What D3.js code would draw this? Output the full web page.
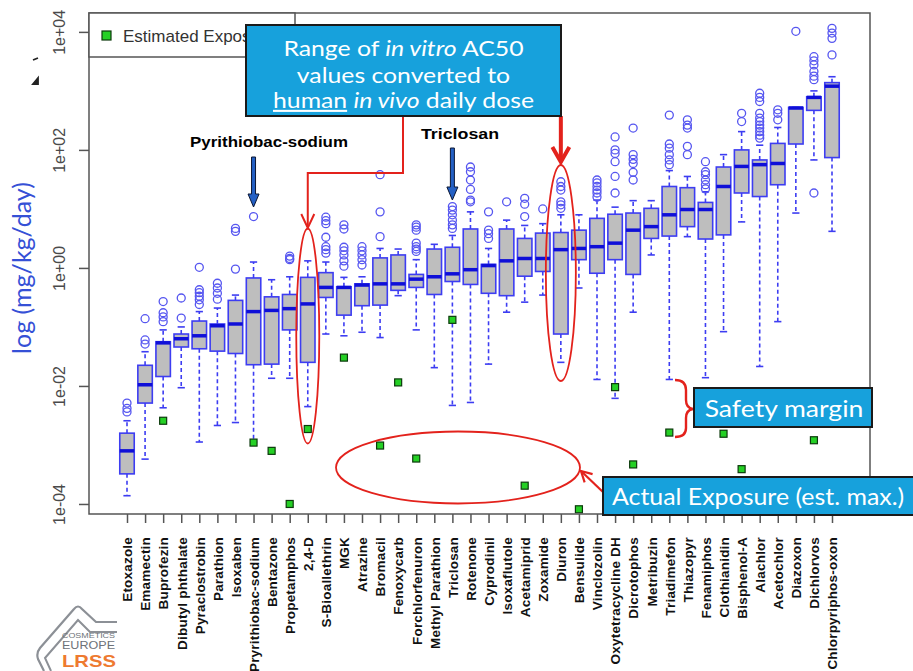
<!DOCTYPE html>
<html>
<head>
<meta charset="utf-8">
<script src="https://cdn.jsdelivr.net/npm/d3@7"></script>
<style>
  body { margin: 0; background: #fff; }
</style>
</head>
<body>
<div id="chart"></div>
<script>
(function() {
  'use strict';

  var categories = ['Etoxazole', 'Emamectin', 'Buprofezin', 'Dibutyl phthalate', 'Pyraclostrobin',
    'Parathion', 'Isoxaben', 'Pryrithiobac-sodium', 'Bentazone', 'Propetamphos', '2,4-D',
    'S-Bioallethrin', 'MGK', 'Atrazine', 'Bromacil', 'Fenoxycarb', 'Forchlorfenuron',
    'Methyl Parathion', 'Triclosan', 'Rotenone', 'Cyprodinil', 'Isoxaflutole', 'Acetamiprid',
    'Zoxamide', 'Diuron', 'Bensulide', 'Vinclozolin', 'Oxytetracycline DH', 'Dicrotophos',
    'Metribuzin', 'Triadimefon', 'Thiazopyr', 'Fenamiphos', 'Clothianidin', 'Bisphenol-A',
    'Alachlor', 'Acetochlor', 'Diazoxon', 'Dichlorvos', 'Chlorpyriphos-oxon'];

  // all values below are log10(mg/kg/day)
  var whiskerLow = [-3.86, -3.24, -2.37, -2.03, -2.95, -2.67, -2.62, -2.95, -1.87, -1.87, -2.35,
    -1.12, -1.15, -1.09, -1.18, -0.47, -1.05, -1.69, -2.33, -2.28, -1.63, -0.75, -0.58, -0.46,
    -1.60, -0.34, -1.89, -2.21, -0.75, 0.22, -1.89, 0.53, -1.86, -1.08, 0.78, -1.67, -0.91,
    0.93, 1.83, 0.62];
  var q1 = [-3.49, -2.29, -1.84, -1.34, -1.37, -1.41, -1.45, -1.64, -1.63, -1.05, -1.60,
    -0.50, -0.80, -0.64, -0.63, -0.38, -0.33, -0.45, -0.23, -0.28, -0.43, -0.47, -0.14, -0.06,
    -1.12, 0.14, -0.09, 0.14, -0.11, 0.50, 0.54, 0.70, 0.49, 0.56, 1.27, 1.21, 1.41,
    2.10, 2.67, 1.87];
  var median = [-3.10, -1.98, -1.27, -1.20, -1.15, -0.98, -0.95, -0.74, -0.72, -0.69, -0.61,
    -0.33, -0.33, -0.29, -0.27, -0.27, -0.19, -0.15, -0.10, -0.03, 0.04, 0.12, 0.16, 0.16,
    0.31, 0.33, 0.36, 0.42, 0.64, 0.70, 0.90, 0.99, 0.99, 1.38, 1.72, 1.75, 1.77,
    2.71, 2.89, 3.08];
  var q3 = [-2.80, -1.65, -1.25, -1.12, -0.90, -0.95, -0.55, -0.17, -0.49, -0.45, -0.16,
    -0.08, -0.32, -0.27, 0.17, 0.22, -0.11, 0.32, 0.35, 0.66, 0.06, 0.66, 0.50, 0.59,
    0.60, 0.64, 0.84, 0.91, 0.93, 1.01, 1.38, 1.36, 1.11, 1.71, 2.00, 1.83, 2.11,
    2.72, 2.90, 3.14];
  var whiskerHigh = [-2.59, -1.42, -1.05, -1.00, -0.74, -0.68, -0.46, 0.10, -0.20, -0.15, 0.12,
    0.10, -0.16, -0.15, 0.33, 0.32, 0.14, 0.40, 0.55, 0.95, 0.33, 0.81, 0.72, 0.75,
    0.90, 0.90, 1.15, 1.03, 1.14, 1.14, 1.65, 1.55, 1.29, 1.92, 2.31, 2.08, 2.38,
    2.72, 3.00, 3.24];
  var outliers = [
    [-2.29, -2.38, -2.44],
    [-0.86, -1.22, -1.29],
    [-0.57, -0.76, -0.83, -0.91],
    [-0.51, -0.85],
    [0.01, -0.37, -0.42, -0.48, -0.54, -0.62],
    [-0.26, -0.34, -0.43, -0.53],
    [0.67, 0.62, -0.02],
    [0.87],
    [],
    [0.20, 0.16, 0.14],
    [],
    [0.86, 0.80, 0.75, 0.52, 0.36, 0.31, 0.25],
    [0.73, 0.66, 0.35, 0.29, 0.22, 0.12, 0.03],
    [0.36, 0.29, 0.22, 0.14, 0.05],
    [1.58, 0.95, 0.53],
    [],
    [0.73, 0.69, 0.64, 0.42, 0.36, 0.32, 0.28],
    [],
    [1.04, 0.98, 0.90, 0.81, 0.73, 0.67],
    [1.71, 1.63, 1.49, 1.33, 1.15, 1.12],
    [0.95, 0.64, 0.58, 0.50],
    [1.12],
    [1.18, 1.08, 0.87],
    [1.00],
    [1.46, 1.38, 1.32, 1.12, 1.07, 1.01],
    [],
    [1.49, 1.44, 1.38, 1.32, 1.27, 1.20],
    [2.22, 2.00, 1.94, 1.80, 1.55, 1.27],
    [2.37, 1.92, 1.84, 1.77, 1.62, 1.49],
    [],
    [2.59, 2.10, 2.03, 1.92, 1.83, 1.75],
    [2.51, 2.42, 2.37, 2.06, 1.92],
    [1.80, 1.63, 1.58, 1.49, 1.41, 1.34],
    [],
    [2.62, 2.48],
    [2.96, 2.89, 2.82, 2.62, 2.54, 2.48, 2.42, 2.37, 2.31, 2.25, 2.20],
    [2.68, 2.62, 2.51],
    [4.01],
    [3.58, 3.51, 3.44, 3.33, 3.25, 3.19, 1.27],
    [4.06, 3.98, 3.89, 3.61]
  ];
  // estimated exposure (green squares), null where none is drawn
  var exposure = [null, null, -2.59, null, null, null, null, -2.96, -3.10, -4.00, -2.73,
    null, -1.52, null, -3.01, -1.94, -3.23, null, -0.88, null, null, null, -3.69, null,
    null, -4.09, null, -2.02, -3.33, null, -2.79, null, null, -2.81, -3.41, null, null,
    null, -2.92, null];

  var yTicks = [1e-4, 1e-2, 1, 1e2, 1e4];
  var yTickLabels = ['1e-04', '1e-02', '1e+00', '1e+02', '1e+04'];

  var svgW = 913,
    svgH = 671;
  var plotL = 89, plotR = 870, plotT = 13, plotB = 514;

  var boxBlue = '#3d3df2',
    red = '#e3221c',
    callBlue = '#17a1dc';

  var svg = d3.select('#chart')
    .append('svg')
    .attr('width', svgW)
    .attr('height', svgH)
    .style('font-family', 'Liberation Sans, Arial, sans-serif');

  var x = d3.scalePoint()
    .domain(categories)
    .range([127, 832]);

  var y = d3.scaleLog()
    .domain([Math.pow(10, -4.17), Math.pow(10, 4.32)])
    .range([plotB, plotT]);

  function yv(v) {
    return y(Math.pow(10, v));
  }

  var halfW = x.step() * 0.4,
    capW = x.step() * 0.2;

  var rows = categories.map(function(c, i) {
    return {
      name: c, lo: whiskerLow[i], q1: q1[i], med: median[i], q3: q3[i],
      hi: whiskerHigh[i], out: outliers[i], exp: exposure[i]
    };
  });

  // axes
  var yAxis = svg.append('g')
    .attr('transform', 'translate(' + plotL + ',0)')
    .call(d3.axisLeft(y).tickValues(yTicks).tickSize(10)
      .tickFormat(function(d, i) { return yTickLabels[i]; }));
  yAxis.select('.domain').remove();
  yAxis.selectAll('line').attr('stroke', '#555').attr('stroke-width', 1.5);
  yAxis.selectAll('text')
    .attr('transform', 'rotate(-90)')
    .attr('x', 0)
    .attr('y', -24)
    .attr('dy', 0)
    .attr('text-anchor', 'middle')
    .attr('fill', '#4a4a4a')
    .style('font-size', '16px')
    .style('font-family', 'Liberation Sans, Arial, sans-serif');

  var xAxis = svg.append('g')
    .attr('transform', 'translate(0,' + plotB + ')')
    .call(d3.axisBottom(x).tickSize(9));
  xAxis.select('.domain').remove();
  xAxis.selectAll('line').attr('stroke', '#555').attr('stroke-width', 1.5);
  xAxis.selectAll('text')
    .attr('transform', 'rotate(-90)')
    .attr('x', -23)
    .attr('y', 4.8)
    .attr('dy', 0)
    .attr('text-anchor', 'end')
    .attr('fill', '#111')
    .style('font-size', '13.5px')
    .style('font-weight', 'bold')
    .style('letter-spacing', '0.2px')
    .style('font-family', 'Liberation Sans, Arial, sans-serif');

  // y label, plus the two stray marks left of the top tick
  svg.append('text')
    .attr('transform', 'translate(31,268) rotate(-90)')
    .attr('text-anchor', 'middle')
    .attr('fill', '#3550d6')
    .style('font-family', 'Lato, sans-serif')
    .style('font-size', '25px')
    .text('log (mg/kg/day)');
  svg.append('path')
    .attr('d', 'M33,60 L38,58 M33,84 L38,78 L38,84 Z')
    .attr('fill', '#222').attr('stroke', '#222').attr('stroke-width', 1.8);

  // boxplots
  var groups = svg.selectAll('g.box')
    .data(rows)
    .enter()
    .append('g')
    .attr('class', 'box')
    .attr('transform', function(d) {
      return 'translate(' + x(d.name) + ',0)';
    });

  groups.append('line')
    .attr('y1', function(d) { return yv(d.q3); })
    .attr('y2', function(d) { return yv(d.hi); })
    .attr('stroke', boxBlue).attr('stroke-width', 1.6).attr('stroke-dasharray', '4,3');
  groups.append('line')
    .attr('y1', function(d) { return yv(d.q1); })
    .attr('y2', function(d) { return yv(d.lo); })
    .attr('stroke', boxBlue).attr('stroke-width', 1.6).attr('stroke-dasharray', '4,3');

  groups.append('line')
    .attr('x1', -capW).attr('x2', capW)
    .attr('y1', function(d) { return yv(d.hi); })
    .attr('y2', function(d) { return yv(d.hi); })
    .attr('stroke', boxBlue).attr('stroke-width', 1.6);
  groups.append('line')
    .attr('x1', -capW).attr('x2', capW)
    .attr('y1', function(d) { return yv(d.lo); })
    .attr('y2', function(d) { return yv(d.lo); })
    .attr('stroke', boxBlue).attr('stroke-width', 1.6);

  groups.append('rect')
    .attr('x', -halfW)
    .attr('width', halfW * 2)
    .attr('y', function(d) { return yv(d.q3); })
    .attr('height', function(d) { return yv(d.q1) - yv(d.q3); })
    .attr('fill', '#bebebe')
    .attr('stroke', boxBlue)
    .attr('stroke-width', 1.6);

  groups.append('line')
    .attr('x1', -halfW).attr('x2', halfW)
    .attr('y1', function(d) { return yv(d.med); })
    .attr('y2', function(d) { return yv(d.med); })
    .attr('stroke', '#0f0fd8')
    .attr('stroke-width', 3.5);

  groups.selectAll('circle')
    .data(function(d) { return d.out; })
    .enter()
    .append('circle')
    .attr('cy', function(d) { return yv(d); })
    .attr('r', 4)
    .attr('fill', 'none')
    .attr('stroke', '#5656f0')
    .attr('stroke-width', 1.3);

  // estimated exposure squares
  svg.selectAll('rect.exp')
    .data(rows.filter(function(d) { return d.exp !== null; }))
    .enter()
    .append('rect')
    .attr('class', 'exp')
    .attr('x', function(d) { return x(d.name) - 3.5; })
    .attr('y', function(d) { return yv(d.exp) - 3.5; })
    .attr('width', 7)
    .attr('height', 7)
    .attr('fill', '#25d025')
    .attr('stroke', '#0c3a0c')
    .attr('stroke-width', 1.2);

  // frame
  svg.append('rect')
    .attr('x', plotL).attr('y', plotT)
    .attr('width', plotR - plotL).attr('height', plotB - plotT)
    .attr('fill', 'none')
    .attr('stroke', '#555')
    .attr('stroke-width', 1.5);

  // legend
  svg.append('rect')
    .attr('x', plotL).attr('y', plotT)
    .attr('width', 295 - plotL).attr('height', 57 - plotT)
    .attr('fill', '#fff')
    .attr('stroke', '#555')
    .attr('stroke-width', 1.5);
  svg.append('rect')
    .attr('x', 102).attr('y', 31)
    .attr('width', 9).attr('height', 9)
    .attr('fill', '#25d025')
    .attr('stroke', '#0c3a0c')
    .attr('stroke-width', 1.2);
  svg.append('text')
    .attr('x', 123).attr('y', 42)
    .attr('fill', '#333')
    .style('font-size', '17px')
    .text('Estimated Exposure');

  // highlighted compounds
  function downArrow(cx, y0, y1) {
    var s = 2, h = 5.5, hl = 13;
    var pts = [[cx - s, y0], [cx + s, y0], [cx + s, y1 - hl], [cx + h, y1 - hl], [cx, y1],
      [cx - h, y1 - hl], [cx - s, y1 - hl]];
    svg.append('polygon')
      .attr('points', pts.map(function(p) { return p.join(','); }).join(' '))
      .attr('fill', '#2460c4')
      .attr('stroke', '#0b1633')
      .attr('stroke-width', 1);
  }

  svg.append('text')
    .attr('x', 269).attr('y', 147)
    .attr('text-anchor', 'middle')
    .attr('textLength', 158)
    .attr('lengthAdjust', 'spacingAndGlyphs')
    .style('font-size', '15px')
    .style('font-weight', 'bold')
    .text('Pyrithiobac-sodium');
  downArrow(x(categories[7]), 157, 207);

  svg.append('text')
    .attr('x', 460).attr('y', 139)
    .attr('text-anchor', 'middle')
    .attr('textLength', 78)
    .attr('lengthAdjust', 'spacingAndGlyphs')
    .style('font-size', '15px')
    .style('font-weight', 'bold')
    .text('Triclosan');
  downArrow(x(categories[18]), 148, 200);

  // red ellipses
  var ellipses = [
    { cx: x(categories[10]), cy: 336, rx: 11.5, ry: 107.5 },
    { cx: x(categories[24]), cy: 273, rx: 15, ry: 108 },
    { cx: 458, cy: 467.5, rx: 122, ry: 36 }
  ];
  svg.selectAll('ellipse')
    .data(ellipses)
    .enter()
    .append('ellipse')
    .attr('cx', function(d) { return d.cx; })
    .attr('cy', function(d) { return d.cy; })
    .attr('rx', function(d) { return d.rx; })
    .attr('ry', function(d) { return d.ry; })
    .attr('fill', 'none')
    .attr('stroke', red)
    .attr('stroke-width', 1.8);

  // connector to the 2,4-D ellipse
  var c24 = x(categories[10]);
  svg.append('path')
    .attr('d', 'M403,116 V173 H' + c24 + ' V227')
    .attr('fill', 'none').attr('stroke', red).attr('stroke-width', 2);
  svg.append('path')
    .attr('d', 'M' + (c24 - 6.5) + ',214 L' + c24 + ',228 L' + (c24 + 6.5) + ',214')
    .attr('fill', 'none').attr('stroke', red).attr('stroke-width', 2);

  // thick arrow to Diuron
  var cDi = x(categories[24]);
  svg.append('path')
    .attr('d', 'M' + cDi + ',116 V160')
    .attr('fill', 'none').attr('stroke', red).attr('stroke-width', 4);
  svg.append('path')
    .attr('d', 'M' + (cDi - 8.5) + ',147 L' + cDi + ',162 L' + (cDi + 8.5) + ',147')
    .attr('fill', 'none').attr('stroke', red).attr('stroke-width', 4)
    .attr('stroke-linejoin', 'miter');

  // arrow from the Actual Exposure box
  var ax0 = 604, ay0 = 493, ax1 = 581, ay1 = 471;
  var ang = Math.atan2(ay1 - ay0, ax1 - ax0), hl = 12;
  svg.append('path')
    .attr('d', 'M' + ax0 + ',' + ay0 + ' L' + ax1 + ',' + ay1)
    .attr('stroke', red).attr('stroke-width', 2.2);
  svg.append('path')
    .attr('d', 'M' + (ax1 - hl * Math.cos(ang - 0.5)) + ',' + (ay1 - hl * Math.sin(ang - 0.5)) +
      ' L' + ax1 + ',' + ay1 +
      ' L' + (ax1 - hl * Math.cos(ang + 0.5)) + ',' + (ay1 - hl * Math.sin(ang + 0.5)))
    .attr('fill', 'none').attr('stroke', red).attr('stroke-width', 2.2);

  // safety margin brace
  svg.append('path')
    .attr('d', 'M675,380 Q686,380 686,390 V400 Q686,408 693,409 Q686,410 686,418 V428 Q686,437 675,437')
    .attr('fill', 'none').attr('stroke', red).attr('stroke-width', 2.4);

  // callout boxes (the slide font is wider than Lato, so the text is stretched a little)
  svg.append('rect')
    .attr('x', 246).attr('y', 25).attr('width', 315).attr('height', 91)
    .attr('fill', callBlue).attr('stroke', '#1a1a1a').attr('stroke-width', 2);
  var call = svg.append('text')
    .attr('transform', 'translate(403.5,0) scale(1.18,1)')
    .attr('text-anchor', 'middle')
    .attr('fill', '#fff')
    .style('font-family', 'Lato, sans-serif')
    .style('font-size', '21px');
  var l1 = call.append('tspan').attr('x', 0).attr('y', 56);
  l1.append('tspan').text('Range of ');
  l1.append('tspan').style('font-style', 'italic').text('in vitro');
  l1.append('tspan').text(' AC50');
  call.append('tspan').attr('x', 0).attr('y', 83).text('values converted to');
  var l3 = call.append('tspan').attr('x', 0).attr('y', 108);
  l3.append('tspan').attr('text-decoration', 'underline').style('text-decoration', 'underline').text('human');
  l3.append('tspan').text(' ');
  l3.append('tspan').style('font-style', 'italic').text('in vivo');
  l3.append('tspan').text(' daily dose');

  svg.append('rect')
    .attr('x', 694).attr('y', 388).attr('width', 178).attr('height', 39)
    .attr('fill', callBlue).attr('stroke', '#1a1a1a').attr('stroke-width', 2);
  svg.append('text')
    .attr('transform', 'translate(784,417) scale(1.13,1)')
    .attr('text-anchor', 'middle')
    .attr('fill', '#fff')
    .style('font-family', 'Lato, sans-serif')
    .style('font-size', '23.5px')
    .text('Safety margin');

  svg.append('rect')
    .attr('x', 603).attr('y', 477).attr('width', 330).attr('height', 38)
    .attr('fill', callBlue).attr('stroke', '#1a1a1a').attr('stroke-width', 2);
  svg.append('text')
    .attr('transform', 'translate(612,505) scale(1.06,1)')
    .attr('fill', '#fff')
    .style('font-family', 'Lato, sans-serif')
    .style('font-size', '23.5px')
    .text('Actual Exposure (est. max.)');

  // logo
  var logo = svg.append('g');
  logo.append('path')
    .attr('d', 'M44,671 L38,659 Q36,653 40,648 L74,609 Q78,604 82,609 L96,622 H117')
    .attr('fill', 'none').attr('stroke', '#8c9096').attr('stroke-width', 2.2);
  logo.append('path')
    .attr('d', 'M51,671 L45,658 L78,620 L90,632 H117')
    .attr('fill', 'none').attr('stroke', '#8c9096').attr('stroke-width', 2);
  logo.append('text')
    .attr('x', 62).attr('y', 637.5)
    .attr('textLength', 53).attr('lengthAdjust', 'spacingAndGlyphs')
    .attr('fill', '#6d7278')
    .style('font-size', '8px')
    .text('COSMETICS');
  logo.append('text')
    .attr('x', 62).attr('y', 649)
    .attr('textLength', 53).attr('lengthAdjust', 'spacingAndGlyphs')
    .attr('fill', '#6d7278')
    .style('font-size', '10.5px')
    .text('EUROPE');
  logo.append('text')
    .attr('x', 62).attr('y', 667)
    .attr('textLength', 54).attr('lengthAdjust', 'spacingAndGlyphs')
    .attr('fill', '#ee7a30')
    .style('font-size', '17px')
    .style('font-weight', 'bold')
    .text('LRSS');

}());
</script>
</body>
</html>
